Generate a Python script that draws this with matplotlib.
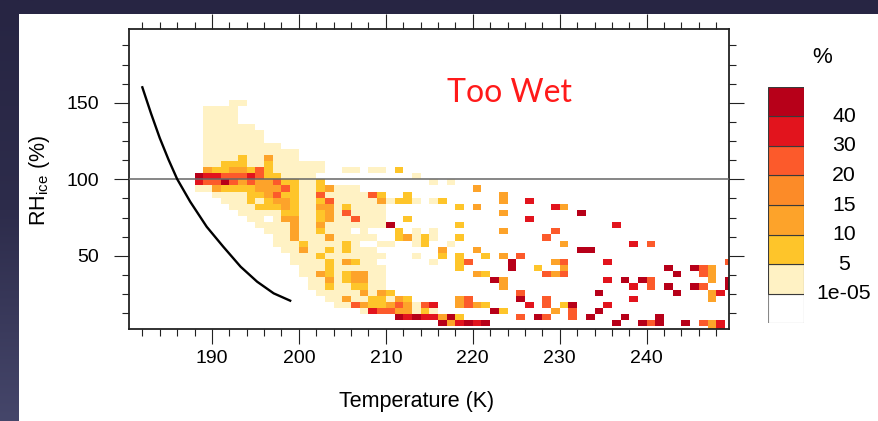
import numpy as np
import matplotlib
matplotlib.use("Agg")
import matplotlib.pyplot as plt
from matplotlib.colors import ListedColormap, BoundaryNorm, LinearSegmentedColormap
from matplotlib.patches import Rectangle
from matplotlib.ticker import MultipleLocator

plt.rcParams["font.family"] = ["Liberation Sans", "DejaVu Sans"]
plt.rcParams["mathtext.fontset"] = "custom"
plt.rcParams["mathtext.rm"] = "Liberation Sans"
plt.rcParams["mathtext.it"] = "Liberation Sans:italic"

# frequency classes (% of samples) shown in the colour bar
class_labels = ["1e-05", "5", "10", "15", "20", "30", "40"]
class_bounds = [1e-05, 5, 10, 15, 20, 30, 40, 100]
class_colors = ["#fff2c4", "#fec52a", "#fda32a", "#fc8b28", "#fc5a2b", "#e2141d", "#b70019"]
# representative frequency for each class code used in the cell table
class_values = {"1": 2.5, "2": 7.5, "3": 12.5, "4": 17.5, "5": 25.0, "6": 35.0, "7": 45.0}

# bins: 1 K in temperature, 4 % in RH_ice
t_edges = np.arange(180, 251, 1)
rh_edges = np.arange(0, 201, 4)

# (RH bin lower edge, first temperature bin, class codes; '.' = empty)
cells = [
    (148, 192, "11"),
    (144, 189, "1111"),
    (140, 189, "1111"),
    (136, 189, "1111"),
    (132, 189, "111111"),
    (128, 189, "1111111"),
    (124, 189, "1111111"),
    (120, 189, "111111111"),
    (116, 189, "11111111111"),
    (112, 189, "11112113111"),
    (108, 189, "11222112111111"),
    (104, 189, "32233252111111..11.11.2"),
    (100, 188, "76655565221111"), (100, 213, "1"),
    (96, 188, "655753533522112"), (96, 215, "1"), (96, 217, "1"),
    (92, 188, "1132222333521123111"), (92, 220, "3"),
    (88, 190, "11112235221151111152"), (88, 212, "2"), (88, 223, "3"),
    (84, 191, "11121233211251111131221.12"), (84, 223, "3"), (84, 226, "6"),
    (80, 192, "111222321133121111"), (80, 218, "2"), (80, 220, "3"), (80, 229, "63"),
    (76, 193, "11111221123151111"), (76, 223, "3"), (76, 232, "7"),
    (72, 194, "11.1331123115111"), (72, 212, "2"), (72, 226, "6"),
    (68, 195, "1111311311111117"), (68, 218, "2"), (68, 236, "6"),
    (64, 196, "1113112111.1...2.1.1"), (64, 223, "3"), (64, 229, "5"),
    (60, 197, "113111311111..23121..2"), (60, 228, "5"),
    (56, 197, "1112111121..11..12..1"), (56, 230, "3"), (56, 238, "6"), (56, 240, "5"),
    (52, 198, "11311212111"), (52, 216, "3"), (52, 220, "3"), (52, 232, "77"),
    (48, 199, "11121111111"), (48, 213, "1"), (48, 216, "2"), (48, 218, "2"),
    (48, 221, "2"), (48, 223, "3"), (48, 225, "5"),
    (44, 199, "1111213211"), (44, 215, "1"), (44, 218, "25"), (44, 224, "7"),
    (44, 229, "35"), (44, 235, "6"), (44, 249, "5"),
    (40, 200, "1112111111"), (40, 218, "2"), (40, 224, "7"), (40, 227, "2"),
    (40, 230, "3"), (40, 242, "7"), (40, 245, "753"),
    (36, 200, "1132123311"), (36, 220, "32"), (36, 228, "535"), (36, 243, "7"), (36, 246, "53"),
    (32, 201, "113123311"), (32, 222, "73"), (32, 235, "6"), (32, 237, "7"),
    (32, 239, "75"), (32, 247, "3"), (32, 249, "7"),
    (28, 201, "112112211"), (28, 223, "3"), (28, 238, "6"), (28, 240, "5"),
    (28, 242, "7"), (28, 245, "75"), (28, 249, "7"),
    (24, 202, "111113132"), (24, 225, "5"), (24, 234, "7"), (24, 243, "7"), (24, 247, "36"),
    (20, 203, "1131122132"), (20, 218, "35"), (20, 225, "7"), (20, 228, "5"),
    (20, 238, "6"), (20, 247, "3"),
    (16, 204, "115322353156"), (16, 218, "3532"), (16, 226, "6"), (16, 228, "5"),
    (16, 230, "27"), (16, 235, "6"),
    (12, 207, "165533121"), (12, 222, "72"), (12, 229, "3"), (12, 231, "5"), (12, 234, "7"),
    (8, 211, "76766372"), (8, 225, "5"), (8, 227, "75"), (8, 231, "5"), (8, 233, "7"),
    (8, 237, "7"), (8, 241, "7"),
    (4, 216, "736767"), (4, 236, "7"), (4, 239, "757"), (4, 244, "7"), (4, 246, "536"),
    (0, 247, "36"),
]

# black reference curve (temperature in K, RH_ice in %)
curve_t = [182.0, 183.0, 184.0, 185.0, 186.0, 187.5, 189.4, 191.3, 193.3, 195.2, 197.1, 199.0]
curve_rh = [160.1, 143.0, 127.0, 113.0, 100.2, 85.4, 69.0, 56.0, 42.9, 33.1, 25.5, 20.7]

freq = np.full((len(rh_edges) - 1, len(t_edges) - 1), np.nan)
for rh0, t0, codes in cells:
    for k, ch in enumerate(codes):
        if ch != ".":
            freq[rh0 // 4, t0 - 180 + k] = class_values[ch]

W, H = 879, 421
fig = plt.figure(figsize=(W / 100, H / 100), dpi=100)
fig.patch.set_facecolor("#2a2846")

# slide backdrop: navy frame, slightly lighter towards the bottom left
bg = fig.add_axes([0, 0, 1, 1])
bg.set_zorder(-5)
bg.axis("off")
frame = LinearSegmentedColormap.from_list("frame", ["#272543", "#2d2c4b", "#45466a"])
bg.imshow(np.linspace(0, 1, 256)[:, None], aspect="auto", cmap=frame,
          extent=[0, 1, 0, 1], origin="upper")
bg.add_patch(Rectangle((19 / W, 0), 1 - 19 / W, 1 - 14 / H, facecolor="white",
                       edgecolor="none"))
bg.set_xlim(0, 1)
bg.set_ylim(0, 1)

ax = fig.add_axes([129.3 / W, (H - 329.3) / H, 600 / W, 300 / H])
ax.set_zorder(2)
cmap = ListedColormap(class_colors)
norm = BoundaryNorm(class_bounds, cmap.N)
ax.pcolormesh(t_edges, rh_edges, freq, cmap=cmap, norm=norm, shading="flat",
              edgecolors="none", antialiased=False)
ax.axhline(100, color="#666666", lw=1.1, zorder=3)
ax.plot(curve_t, curve_rh, color="black", lw=1.7, zorder=4)

ax.set_xlim(180.5, 249.5)
ax.set_ylim(2, 198)
ax.xaxis.set_major_locator(MultipleLocator(10))
ax.xaxis.set_minor_locator(MultipleLocator(2))
ax.yaxis.set_major_locator(MultipleLocator(50))
ax.yaxis.set_minor_locator(MultipleLocator(12.5))
ax.tick_params(which="both", direction="out", top=True, right=True,
               labeltop=False, labelright=False, color="#222222", width=0.8)
ax.tick_params(which="major", length=11, labelsize=14)
ax.tick_params(which="minor", length=5.2)
ax.tick_params(axis="y", which="major", pad=11)
ax.tick_params(axis="x", which="major", pad=4)
for s in ax.spines.values():
    s.set_linewidth(1.3)
    s.set_color("#222222")

fig.text(417 / W, 1 - 402 / H, "Temperature (K)", ha="center", va="center", fontsize=15.5)
fig.text(40 / W, 1 - 180 / H, r"RH$_{\rm ice}$ (%)", ha="center", va="center",
         fontsize=15.5, rotation=90)
fig.text(510 / W, 1 - 93 / H, "Too Wet", ha="center", va="center", fontsize=23,
         color="#ff1a1a", family=["Lato", "DejaVu Sans"])

# colour bar: white box for the lowest class, then the fill classes
cax = fig.add_axes([768.3 / W, (H - 323.3) / H, 36 / W, 236.6 / H])
cax.set_zorder(2)
cax.set_xlim(0, 1)
cax.set_ylim(0, 8)
cax.axis("off")
box_colors = ["#ffffff"] + class_colors
for k, c in enumerate(box_colors):
    edge = "#888888" if k == 0 else "#3a3a3a"
    cax.add_patch(Rectangle((0, k), 1, 1, facecolor=c, edgecolor=edge, lw=0.8))
for k, lab in enumerate(class_labels):
    cax.text(2.1, k + 1, lab, ha="center", va="center", fontsize=15.3)
fig.text(822.5 / W, 1 - 57.3 / H, "%", ha="center", va="center", fontsize=16)

fig.savefig("out.png", dpi=100, facecolor=fig.get_facecolor())
